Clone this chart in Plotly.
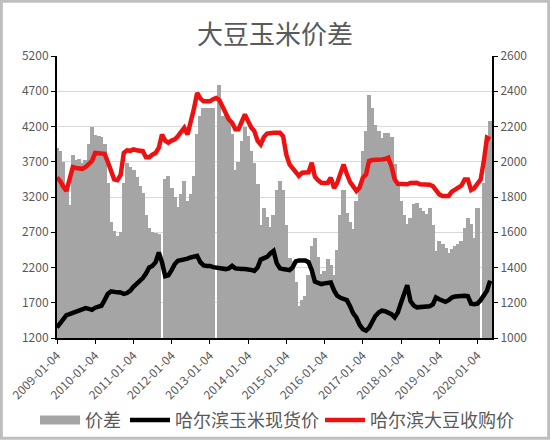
import pandas as pd
import plotly.graph_objects as go

# monthly samples, starting 2009-01-04
spread = [3900, 3850, 3700, 3300, 3080, 3800, 3720, 3740, 3680, 3720,
          3950, 4200, 4080, 4060, 4050, 3950, 3400, 2850, 2720, 2640,
          2700, 3400, 3680, 3630, 3590, 3480, 3350, 3250, 2950, 2760,
          2710, 2695, 2680, None, 3450, 3500, 3330, 3200, 3060, 3240,
          3420, 3150, 3240, 3500, 4100, 4350, 4464, 4464, 4464, 4464,
          None, 4790, 4350, 4370, 4275, 4087, 3580, 3700, 4000, 4200,
          4060, 3850, 3680, 3380, 2800, 3050, 2920, 2780, 2950, 3300,
          3420, 3300, 2800, 2340, 2294, 2000, 1660, 1740, 1800, 2100,
          2500, 2620, 2342, 2106, 2150, 2318, 2240, 2100, 2450, 2950,
          3300, 2980, 2850, 2750, 3143, 3379, 3850, 4134, 4653, 4464,
          4228, 4134, 4040, 4110, 4110, 4050, 3662, 3379, 3143, 2950,
          2813, 2900, 3096, 3120, 3050, 3002, 2960, 3049, 2800, 2436,
          2577, 2540, 2483, 2412, 2459, 2500, 2530, 2577, 2766, 2908,
          2813, 2625, 3049, None, 3400, 3900, 4275]

corn = [1060, 1085, 1115, 1130, 1135, 1142, 1148, 1155, 1162, 1170,
        1165, 1160, 1172, 1175, 1183, 1215, 1250, 1265, 1260, 1259,
        1258, 1250, 1255, 1268, 1290, 1305, 1325, 1340, 1365, 1400,
        1409, 1430, 1485, 1430, 1350, 1355, 1385, 1420, 1438, 1440,
        1442, 1450, 1457, 1462, 1466, 1430, 1412, 1409, 1409, 1402,
        1400, 1392, 1391, 1391, 1395, 1409, 1395, 1391, 1391, 1391,
        1391, 1386, 1381, 1400, 1445, 1450, 1460, 1480, 1494, 1425,
        1395, 1391, 1386, 1385, 1400, 1435, 1440, 1442, 1440, 1430,
        1385, 1320, 1310, 1306, 1310, 1315, 1315, 1270, 1240, 1228,
        1222, 1215, 1180, 1140, 1115, 1075, 1050, 1042, 1058, 1100,
        1125, 1145, 1155, 1152, 1145, 1135, 1117, 1145, 1200, 1249,
        1300, 1210, 1185, 1174, 1174, 1174, 1174, 1180, 1190, 1230,
        1220, 1211, 1205, 1215, 1230, 1235, 1238, 1240, 1240, 1238,
        1195, 1192, 1195, 1215, 1240, 1268, 1325]

soy = [1910, 1890, 1860, 1835, 1900, 1970, 1965, 1965, 1960, 1970,
       1985, 2005, 2050, 2050, 2048, 2045, 2000, 1940, 1900, 1895,
       1925, 2050, 2065, 2062, 2070, 2065, 2060, 2060, 2025, 2025,
       2040, 2050, 2080, 2155, 2120, 2108, 2120, 2127, 2145, 2165,
       2193, 2155, 2220, 2300, 2391, 2360, 2343, 2343, 2343, 2355,
       2362, 2350, 2310, 2268, 2240, 2221, 2185, 2185, 2230, 2268,
       2230, 2193, 2174, 2120, 2098, 2140, 2160, 2164, 2164, 2164,
       2164, 2145, 2040, 1985, 1966, 1940, 1920, 1938, 1938, 1940,
       1994, 1915, 1895, 1881, 1880, 1881, 1910, 1850, 1880, 1940,
       1985, 1930, 1885, 1860, 1834, 1853, 1910, 1928, 2004, 2010,
       2013, 2013, 2013, 2015, 2023, 1975, 1900, 1875, 1872, 1872,
       1872, 1880, 1881, 1881, 1872, 1872, 1872, 1870, 1862, 1840,
       1815, 1806, 1806, 1806, 1830, 1845, 1853, 1865, 1900, 1900,
       1840, 1850, 1875, 1900, 2000, 2136, 2127]

year_ticks = [f"{y}-01-04" for y in range(2009, 2021)]

dates = pd.date_range("2009-01-04", periods=len(spread), freq=pd.DateOffset(months=1))

GRAY_TXT = "#595959"
FONT = "Noto Sans CJK SC"

ml, mr, mt, mb = 57, 58, 56, 101.5
pw, ph = 550 - ml - mr, 440 - mt - mb
leg_y = (ph - (421 - mt)) / ph


def px_x(p):
    return (p - ml) / pw


fig = go.Figure()
fig.add_trace(go.Bar(x=dates, y=spread, name="价差", marker=dict(color="#A5A5A5", line=dict(width=0)),
                     width=40 * 86400000, showlegend=False))
# legend swatch for the grey area (wide bar like the original)
fig.add_trace(go.Scatter(x=[None], y=[None], mode="lines", name="价差", legend="legend",
                         line=dict(color="#A5A5A5", width=9)))
fig.add_trace(go.Scatter(x=dates, y=corn, mode="lines", name="哈尔滨玉米现货价", yaxis="y2",
                         legend="legend2", line=dict(color="#000000", width=4.5)))
fig.add_trace(go.Scatter(x=dates, y=soy, mode="lines", name="哈尔滨大豆收购价", yaxis="y2",
                         legend="legend3", line=dict(color="#EE1111", width=4.5)))

leg_common = dict(orientation="h", xanchor="left", y=leg_y, yanchor="middle",
                  font=dict(size=18, color=GRAY_TXT, family=FONT), itemwidth=40,
                  bgcolor="rgba(0,0,0,0)", borderwidth=0)

fig.update_layout(
    width=550, height=440,
    margin=dict(l=ml, r=mr, t=mt, b=mb, pad=0, autoexpand=False),
    paper_bgcolor="white", plot_bgcolor="white",
    font=dict(family=FONT, color=GRAY_TXT, size=12),
    title=dict(text="大豆玉米价差", x=0.5, xanchor="center", y=1 - 35 / 440, yanchor="middle",
               font=dict(size=26, color=GRAY_TXT, family=FONT)),
    bargap=0,
    xaxis=dict(type="date", range=["2009-01-04", "2020-05-22"],
               tickvals=year_ticks, ticktext=year_ticks, tickangle=-45,
               showgrid=False, showline=True, linecolor="black", linewidth=2,
               ticks="outside", ticklen=4, tickcolor="black",
               tickfont=dict(size=12, color=GRAY_TXT)),
    yaxis=dict(range=[1200, 5200], tickvals=list(range(1200, 5201, 500)),
               showgrid=True, gridcolor="#D9D9D9", gridwidth=1,
               showline=True, linecolor="black", linewidth=2,
               ticks="outside", ticklen=4, tickcolor="black",
               tickfont=dict(size=12, color=GRAY_TXT), zeroline=False),
    yaxis2=dict(range=[1000, 2600], tickvals=list(range(1000, 2601, 200)),
                overlaying="y", side="right", showgrid=False,
                showline=True, linecolor="black", linewidth=2,
                ticks="outside", ticklen=4, tickcolor="black",
                tickfont=dict(size=12, color=GRAY_TXT), zeroline=False),
    legend=dict(x=px_x(35), **leg_common),
    legend2=dict(x=px_x(125), **leg_common),
    legend3=dict(x=px_x(320), **leg_common),
    shapes=[dict(type="rect", xref="paper", yref="paper",
                 x0=-ml / pw + 0.003, x1=1 + mr / pw - 0.003,
                 y0=-mb / ph + 0.004, y1=1 + mt / ph - 0.004,
                 line=dict(color="#BEBEBE", width=3), layer="below")],
)

# drop the browser's default body margin so the figure sits at the page corner
fig.write_html("out.html", config={"displayModeBar": False},
               post_script="document.body.style.margin='0';")
